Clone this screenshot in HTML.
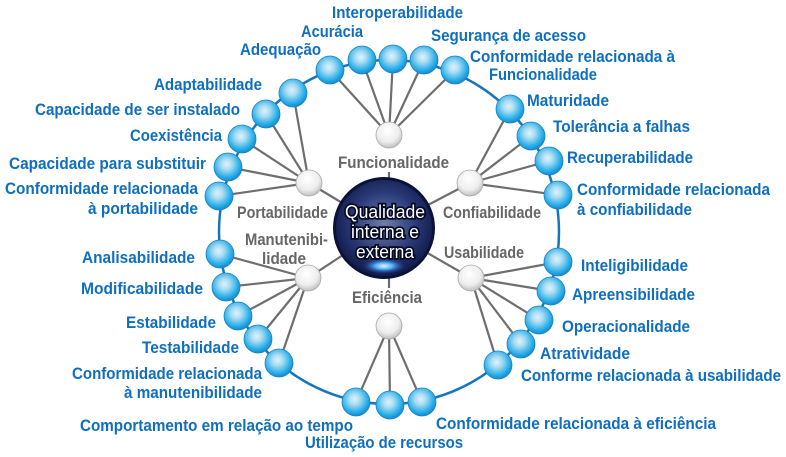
<!DOCTYPE html>
<html><head><meta charset="utf-8"><style>
html,body{margin:0;padding:0;background:#fff;}
svg{display:block}
.b{font-family:"Liberation Sans",sans-serif;font-weight:bold;font-size:17px;fill:#0f6fbe}
.g{font-family:"Liberation Sans",sans-serif;font-weight:bold;font-size:17px;fill:#666}
</style></head><body>
<svg width="786" height="457" viewBox="0 0 786 457" xmlns="http://www.w3.org/2000/svg">
<defs>
<radialGradient id="bs" cx="0.45" cy="0.4" r="0.65">
<stop offset="0" stop-color="#e0f2fa"/><stop offset="0.3" stop-color="#a8dcf3"/><stop offset="0.7" stop-color="#2bb0ea"/><stop offset="1" stop-color="#0e7cc4"/></radialGradient>
<radialGradient id="ws" cx="0.45" cy="0.35" r="0.7">
<stop offset="0" stop-color="#ffffff"/><stop offset="0.6" stop-color="#eeeeee"/><stop offset="1" stop-color="#b5b5b5"/></radialGradient>
<radialGradient id="cs" cx="0.5" cy="0.45" r="0.6">
<stop offset="0" stop-color="#6f7fa8"/><stop offset="0.55" stop-color="#2a3a78"/><stop offset="1" stop-color="#0b1440"/></radialGradient>
<radialGradient id="glow" cx="0.5" cy="0.5" r="0.5">
<stop offset="0" stop-color="#e8f6ff"/><stop offset="0.4" stop-color="#4fb0ff"/><stop offset="1" stop-color="#1a3a90" stop-opacity="0"/></radialGradient>
</defs>
<ellipse cx="389" cy="232" rx="170" ry="172" fill="none" stroke="#1575c0" stroke-width="2.5"/>
<g stroke="#6e6e6e" stroke-width="2.2">
<line x1="389" y1="135" x2="330" y2="70"/><line x1="389" y1="135" x2="362" y2="60"/><line x1="389" y1="135" x2="393" y2="59"/><line x1="389" y1="135" x2="424" y2="60"/><line x1="389" y1="135" x2="455" y2="70"/>
<line x1="470" y1="183" x2="510" y2="109"/><line x1="470" y1="183" x2="531" y2="136"/><line x1="470" y1="183" x2="549" y2="161"/><line x1="470" y1="183" x2="558" y2="195"/>
<line x1="471" y1="278" x2="558" y2="262"/><line x1="471" y1="278" x2="551" y2="291"/><line x1="471" y1="278" x2="539" y2="320"/><line x1="471" y1="278" x2="521" y2="344"/><line x1="471" y1="278" x2="498" y2="365"/>
<line x1="389" y1="326" x2="356" y2="402"/><line x1="389" y1="326" x2="390" y2="405"/><line x1="389" y1="326" x2="422" y2="402"/>
<line x1="308" y1="278" x2="220" y2="254"/><line x1="308" y1="278" x2="226" y2="287"/><line x1="308" y1="278" x2="238" y2="316"/><line x1="308" y1="278" x2="258" y2="339"/><line x1="308" y1="278" x2="279" y2="363"/>
<line x1="309" y1="183" x2="293" y2="93"/><line x1="309" y1="183" x2="266" y2="114"/><line x1="309" y1="183" x2="242" y2="139"/><line x1="309" y1="183" x2="228" y2="167"/><line x1="309" y1="183" x2="219" y2="196"/>
<line x1="384" y1="228" x2="309" y2="183"/><line x1="384" y1="228" x2="470" y2="183"/><line x1="384" y1="228" x2="308" y2="278"/><line x1="384" y1="228" x2="471" y2="278"/>
<line x1="389" y1="172" x2="389" y2="180"/><line x1="389" y1="278" x2="389" y2="288"/>
</g>
<g fill="url(#bs)" stroke="#1a80c0" stroke-width="0.8">
<circle cx="330" cy="70" r="14"/><circle cx="362" cy="60" r="14"/><circle cx="393" cy="59" r="14"/><circle cx="424" cy="60" r="14"/><circle cx="455" cy="70" r="14"/>
<circle cx="510" cy="109" r="14"/><circle cx="531" cy="136" r="14"/><circle cx="549" cy="161" r="14"/><circle cx="558" cy="195" r="14"/>
<circle cx="558" cy="262" r="14"/><circle cx="551" cy="291" r="14"/><circle cx="539" cy="320" r="14"/><circle cx="521" cy="344" r="14"/><circle cx="498" cy="365" r="14"/>
<circle cx="356" cy="402" r="14"/><circle cx="390" cy="405" r="14"/><circle cx="422" cy="402" r="14"/>
<circle cx="220" cy="254" r="14"/><circle cx="226" cy="287" r="14"/><circle cx="238" cy="316" r="14"/><circle cx="258" cy="339" r="14"/><circle cx="279" cy="363" r="14"/>
<circle cx="293" cy="93" r="14"/><circle cx="266" cy="114" r="14"/><circle cx="242" cy="139" r="14"/><circle cx="228" cy="167" r="14"/><circle cx="219" cy="196" r="14"/>
</g>
<g fill="url(#ws)" stroke="#aaa" stroke-width="0.8">
<circle cx="389" cy="135" r="13"/><circle cx="470" cy="183" r="13"/><circle cx="471" cy="278" r="13"/><circle cx="389" cy="326" r="13"/><circle cx="308" cy="278" r="13"/><circle cx="309" cy="183" r="13"/>
</g>
<circle cx="384" cy="228" r="51" fill="#0a1238"/>
<circle cx="384" cy="228" r="48" fill="url(#cs)"/>
<ellipse cx="384" cy="266" rx="22" ry="8" fill="url(#glow)"/>
<g font-family="Liberation Sans,sans-serif" font-size="18" text-anchor="middle" fill="#fff" stroke="#050a25" stroke-width="3.5" paint-order="stroke">
<text x="385" y="218" textLength="80" lengthAdjust="spacingAndGlyphs">Qualidade</text>
<text x="385" y="238" textLength="68" lengthAdjust="spacingAndGlyphs">interna e</text>
<text x="385" y="258" textLength="58" lengthAdjust="spacingAndGlyphs">externa</text>
</g>
<g class="g">
<text x="338" y="168" textLength="111" lengthAdjust="spacingAndGlyphs">Funcionalidade</text>
<text x="237" y="218" textLength="91" lengthAdjust="spacingAndGlyphs">Portabilidade</text>
<text x="443" y="218" textLength="98" lengthAdjust="spacingAndGlyphs">Confiabilidade</text>
<text x="245" y="245" textLength="83" lengthAdjust="spacingAndGlyphs">Manutenibi-</text>
<text x="262" y="264" textLength="44" lengthAdjust="spacingAndGlyphs">lidade</text>
<text x="444" y="258" textLength="80" lengthAdjust="spacingAndGlyphs">Usabilidade</text>
<text x="352" y="303" textLength="70" lengthAdjust="spacingAndGlyphs">Eficiência</text>
</g>
<g class="b">
<text x="332" y="18" textLength="131" lengthAdjust="spacingAndGlyphs">Interoperabilidade</text>
<text x="301" y="37" textLength="62" lengthAdjust="spacingAndGlyphs">Acurácia</text>
<text x="431" y="41" textLength="155" lengthAdjust="spacingAndGlyphs">Segurança de acesso</text>
<text x="240" y="55" textLength="81" lengthAdjust="spacingAndGlyphs">Adequação</text>
<text x="470" y="62" textLength="205" lengthAdjust="spacingAndGlyphs">Conformidade relacionada à</text>
<text x="489" y="80" textLength="108" lengthAdjust="spacingAndGlyphs">Funcionalidade</text>
<text x="154" y="90" textLength="108" lengthAdjust="spacingAndGlyphs">Adaptabilidade</text>
<text x="527" y="106" textLength="82" lengthAdjust="spacingAndGlyphs">Maturidade</text>
<text x="35" y="115" textLength="205" lengthAdjust="spacingAndGlyphs">Capacidade de ser instalado</text>
<text x="553" y="132" textLength="137" lengthAdjust="spacingAndGlyphs">Tolerância a falhas</text>
<text x="130" y="141" textLength="92" lengthAdjust="spacingAndGlyphs">Coexistência</text>
<text x="567" y="163" textLength="126" lengthAdjust="spacingAndGlyphs">Recuperabilidade</text>
<text x="9" y="169" textLength="197" lengthAdjust="spacingAndGlyphs">Capacidade para substituir</text>
<text x="577" y="195" textLength="193" lengthAdjust="spacingAndGlyphs">Conformidade relacionada</text>
<text x="5" y="194" textLength="193" lengthAdjust="spacingAndGlyphs">Conformidade relacionada</text>
<text x="88" y="214" textLength="110" lengthAdjust="spacingAndGlyphs">à portabilidade</text>
<text x="577" y="215" textLength="115" lengthAdjust="spacingAndGlyphs">à confiabilidade</text>
<text x="82" y="263" textLength="113" lengthAdjust="spacingAndGlyphs">Analisabilidade</text>
<text x="581" y="271" textLength="107" lengthAdjust="spacingAndGlyphs">Inteligibilidade</text>
<text x="81" y="294" textLength="122" lengthAdjust="spacingAndGlyphs">Modificabilidade</text>
<text x="572" y="300" textLength="123" lengthAdjust="spacingAndGlyphs">Apreensibilidade</text>
<text x="126" y="328" textLength="90" lengthAdjust="spacingAndGlyphs">Estabilidade</text>
<text x="562" y="332" textLength="128" lengthAdjust="spacingAndGlyphs">Operacionalidade</text>
<text x="142" y="353" textLength="97" lengthAdjust="spacingAndGlyphs">Testabilidade</text>
<text x="540" y="359" textLength="90" lengthAdjust="spacingAndGlyphs">Atratividade</text>
<text x="72" y="379" textLength="190" lengthAdjust="spacingAndGlyphs">Conformidade relacionada</text>
<text x="521" y="381" textLength="260" lengthAdjust="spacingAndGlyphs">Conforme relacionada à usabilidade</text>
<text x="124" y="398" textLength="138" lengthAdjust="spacingAndGlyphs">à manutenibilidade</text>
<text x="80" y="431" textLength="273" lengthAdjust="spacingAndGlyphs">Comportamento em relação ao tempo</text>
<text x="436" y="429" textLength="280" lengthAdjust="spacingAndGlyphs">Conformidade relacionada à eficiência</text>
<text x="305" y="448" textLength="158" lengthAdjust="spacingAndGlyphs">Utilização de recursos</text>
</g>
</svg>
</body></html>
